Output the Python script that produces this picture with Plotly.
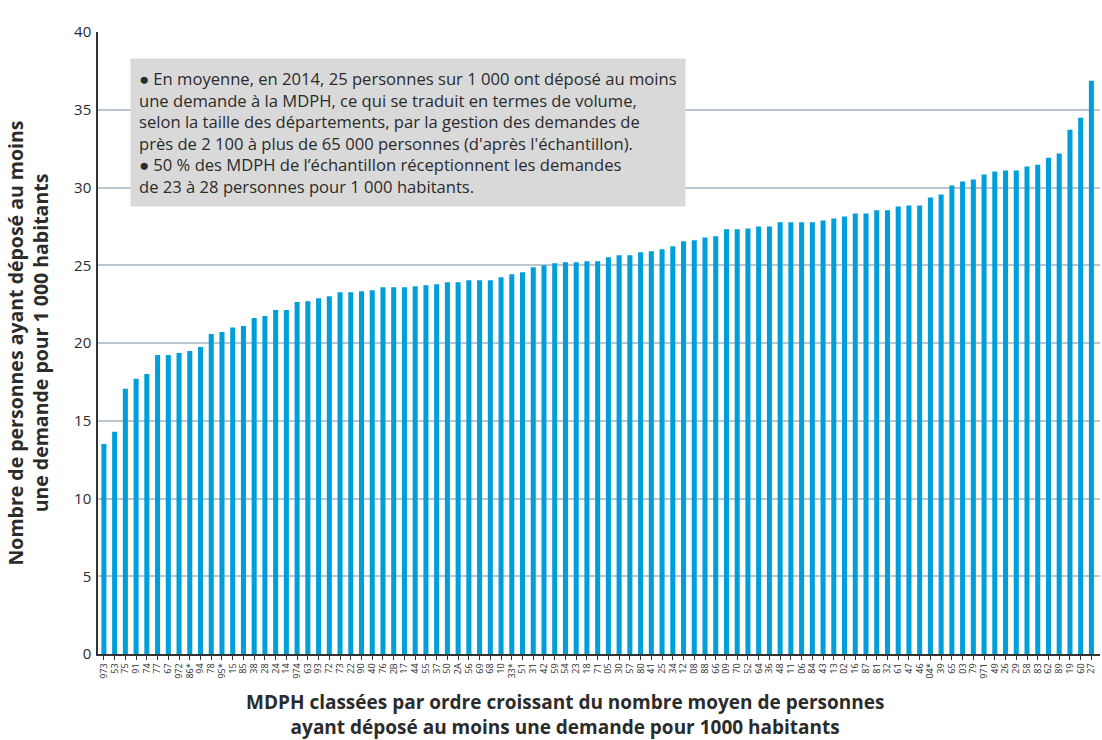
"""MDPH ranked by mean number of people filing at least one request per 1,000 inhabitants."""

import plotly.graph_objects as go

C_BAR = "#009fda"
C_GRID = "#bcc6ce"
C_TEXT = "#2b2b2b"
FONT = "Open Sans"

departements = [
    "973", "53", "75", "91", "74", "77", "67", "972", "86*", "94",
    "78", "95*", "15", "85", "38", "28", "24", "14", "974", "63",
    "93", "72", "73", "22", "90", "40", "76", "2B", "17", "44",
    "55", "37", "50", "2A", "56", "69", "68", "10", "33*", "51",
    "31", "42", "59", "54", "23", "18", "71", "05", "30", "57",
    "80", "41", "25", "34", "12", "08", "88", "66", "09", "70",
    "52", "64", "36", "48", "11", "06", "84", "43", "13", "02",
    "16", "87", "81", "32", "61", "47", "46", "04*", "39", "65",
    "03", "79", "971", "49", "26", "29", "58", "83", "62", "89",
    "19", "60", "27",
]

personnes_pour_1000 = [
    13.5, 14.3, 17.05, 17.7, 18.0, 19.23, 19.23, 19.36, 19.49, 19.74,
    20.58, 20.7, 21.0, 21.1, 21.6, 21.73, 22.12, 22.12, 22.63, 22.69,
    22.88, 23.01, 23.27, 23.27, 23.33, 23.4, 23.59, 23.59, 23.59, 23.65,
    23.72, 23.78, 23.91, 23.91, 24.04, 24.04, 24.04, 24.23, 24.42, 24.55,
    24.87, 25.0, 25.13, 25.19, 25.19, 25.26, 25.26, 25.51, 25.64, 25.64,
    25.83, 25.9, 26.03, 26.22, 26.54, 26.6, 26.79, 26.86, 27.31, 27.31,
    27.37, 27.5, 27.5, 27.76, 27.76, 27.76, 27.76, 27.88, 28.01, 28.14,
    28.33, 28.33, 28.53, 28.53, 28.78, 28.85, 28.85, 29.36, 29.55, 30.13,
    30.38, 30.51, 30.83, 31.03, 31.09, 31.09, 31.35, 31.47, 31.92, 32.18,
    33.72, 34.49, 36.86,
]

y_ticks = [0, 5, 10, 15, 20, 25, 30, 35, 40]

note_lines = [
    "\u25cf En moyenne, en 2014, 25 personnes sur 1 000 ont déposé au moins",
    "une demande à la MDPH, ce qui se traduit en termes de volume,",
    "selon la taille des départements, par la gestion des demandes de",
    "près de 2 100 à plus de 65 000 personnes (d'après l'échantillon).",
    "\u25cf 50 % des MDPH de l’échantillon réceptionnent les demandes",
    "de 23 à 28 personnes pour 1 000 habitants.",
]

fig = go.Figure(
    go.Bar(
        x=departements,
        y=personnes_pour_1000,
        marker=dict(color=C_BAR, line_width=0),
        hovertemplate="%{x}: %{y:.1f}<extra></extra>",
    )
)

fig.update_layout(
    width=1102,
    height=740,
    margin=dict(l=98, r=2, t=32, b=86, autoexpand=False),
    plot_bgcolor="white",
    paper_bgcolor="white",
    bargap=0.53,
    showlegend=False,
    font=dict(family=FONT, color=C_TEXT),
)

fig.update_xaxes(
    type="category",
    range=[-0.55, 92.8],
    tickmode="array",
    tickvals=departements,
    ticktext=departements,
    tickangle=-90,
    tickfont=dict(size=9, color=C_TEXT),
    ticks="outside",
    ticklen=4,
    tickcolor="#333",
    showline=True,
    linecolor="#333",
    linewidth=1.5,
    showgrid=False,
    automargin=False,
)

fig.update_yaxes(
    range=[0, 40],
    tickvals=y_ticks,
    tickfont=dict(size=15, color=C_TEXT),
    ticklabelstandoff=2,
    showline=True,
    linecolor="#333",
    linewidth=1.5,
    showgrid=True,
    gridcolor=C_GRID,
    gridwidth=1.5,
    zeroline=False,
    automargin=False,
    title=dict(
        text="<b>Nombre de personnes ayant déposé au moins<br>"
             "une demande pour 1 000 habitants</b>",
        font=dict(size=19.5, color=C_TEXT),
        standoff=20,
    ),
)

# x-axis title sits left of the plot centre in the original, so use an annotation
fig.add_annotation(
    text="<b>MDPH classées par ordre croissant du nombre moyen de personnes<br>"
         "ayant déposé au moins une demande pour 1000 habitants</b>",
    xref="paper", yref="paper",
    x=0.466, y=-0.097,
    xanchor="center", yanchor="middle",
    showarrow=False,
    font=dict(size=19, color=C_TEXT),
)

fig.add_annotation(
    text="<br>".join(note_lines),
    xref="paper", yref="paper",
    x=0.032, y=0.958,
    xanchor="left", yanchor="top",
    align="left",
    showarrow=False,
    bgcolor="#d9d9d9",
    borderpad=8,
    font=dict(size=16.6, color=C_TEXT),
)

# the page body has a default 8px margin; drop it so the figure fills the window
fig.write_html(
    "out.html",
    config={"displayModeBar": False},
    post_script="document.body.style.margin='0';",
)
